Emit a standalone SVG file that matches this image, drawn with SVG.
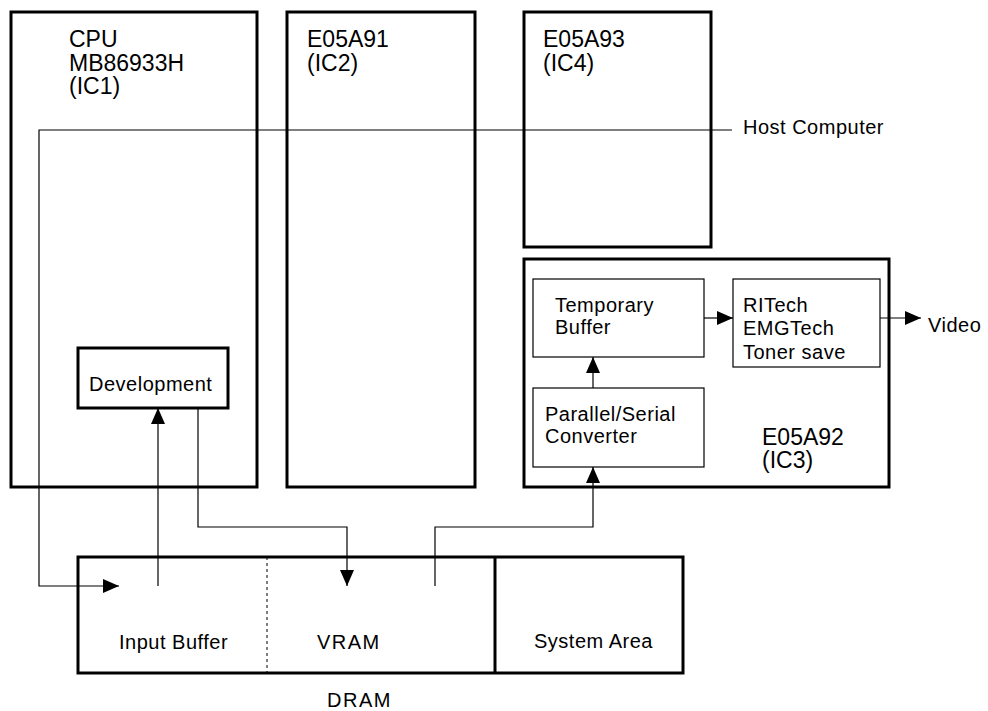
<svg xmlns="http://www.w3.org/2000/svg" width="988" height="711" viewBox="0 0 988 711">
<defs>
<style>
.thick{fill:none;stroke:#000;stroke-width:3}
.thin{fill:none;stroke:#000;stroke-width:1.2}
.wire{fill:none;stroke:#000;stroke-width:1.2}
.t{font-family:"Liberation Sans",Arial,sans-serif;font-size:20px;letter-spacing:0.5px;fill:#000}
.h{font-family:"Liberation Sans",Arial,sans-serif;font-size:23px;fill:#000}
.sp{letter-spacing:1.5px}
</style>
<marker id="arr" markerUnits="userSpaceOnUse" markerWidth="16" markerHeight="14" refX="16" refY="7" orient="auto">
<path d="M0,0 L16,7 L0,14 Z" fill="#000"/>
</marker>
</defs>
<rect width="988" height="711" fill="#fff"/>
<g id="cpu">
<rect class="thick" x="11" y="12" width="246" height="475"/>
<text class="h" x="69" y="47">CPU</text>
<text class="h" x="69" y="71">MB86933H</text>
<text class="h" x="69" y="94">(IC1)</text>
</g>
<g id="development">
<rect class="thick" x="78" y="348" width="150" height="60" fill="#fff"/>
<text class="t" x="89" y="391">Development</text>
</g>
<g id="e05a91">
<rect class="thick" x="287" y="12" width="188" height="475"/>
<text class="h" x="307" y="47">E05A91</text>
<text class="h" x="307" y="71">(IC2)</text>
</g>
<g id="e05a93">
<rect class="thick" x="524" y="12" width="187" height="235"/>
<text class="h" x="543" y="47">E05A93</text>
<text class="h" x="543" y="71">(IC4)</text>
</g>
<g id="e05a92">
<rect class="thick" x="524" y="259" width="365" height="228"/>
<text class="h" x="762" y="445">E05A92</text>
<text class="h" x="762" y="468">(IC3)</text>
</g>
<g id="temporary-buffer">
<rect class="thin" x="533" y="279" width="171" height="78"/>
<text class="t" x="555" y="312">Temporary</text>
<text class="t" x="555" y="334">Buffer</text>
</g>
<g id="ritech">
<rect class="thin" x="733" y="279" width="147" height="88"/>
<text class="t" x="743" y="312">RITech</text>
<text class="t" x="743" y="335">EMGTech</text>
<text class="t" x="743" y="359">Toner save</text>
</g>
<g id="ps-converter">
<rect class="thin" x="533" y="388" width="171" height="79"/>
<text class="t" x="545" y="421">Parallel/Serial</text>
<text class="t" x="545" y="443">Converter</text>
</g>
<g id="dram">
<rect class="thick" x="78" y="557" width="605" height="116"/>
<line x1="495" y1="557" x2="495" y2="673" stroke="#000" stroke-width="3"/>
<line x1="267" y1="557" x2="267" y2="673" stroke="#000" stroke-width="1" stroke-dasharray="3,3"/>
<text class="t" x="119" y="649">Input Buffer</text>
<text class="t sp" x="317" y="649">VRAM</text>
<text class="t" x="534" y="648">System Area</text>
<text class="t sp" x="327" y="707">DRAM</text>
</g>
<g id="host-computer">
<text class="t" x="743" y="134">Host Computer</text>
</g>
<g id="video">
<text class="t" x="928" y="332">Video</text>
</g>
<g id="connectors">
<path class="wire" d="M732,130 H39 V586 H119" marker-end="url(#arr)"/>
<path class="wire" d="M158,586 V408" marker-end="url(#arr)"/>
<path class="wire" d="M198,408 V527 H347 V586" marker-end="url(#arr)"/>
<path class="wire" d="M435,586 V527 H593 V467" marker-end="url(#arr)"/>
<path class="wire" d="M593,388 V357" marker-end="url(#arr)"/>
<path class="wire" d="M704,318 H733" marker-end="url(#arr)"/>
<path class="wire" d="M880,318 H921" marker-end="url(#arr)"/>
</g>
</svg>
